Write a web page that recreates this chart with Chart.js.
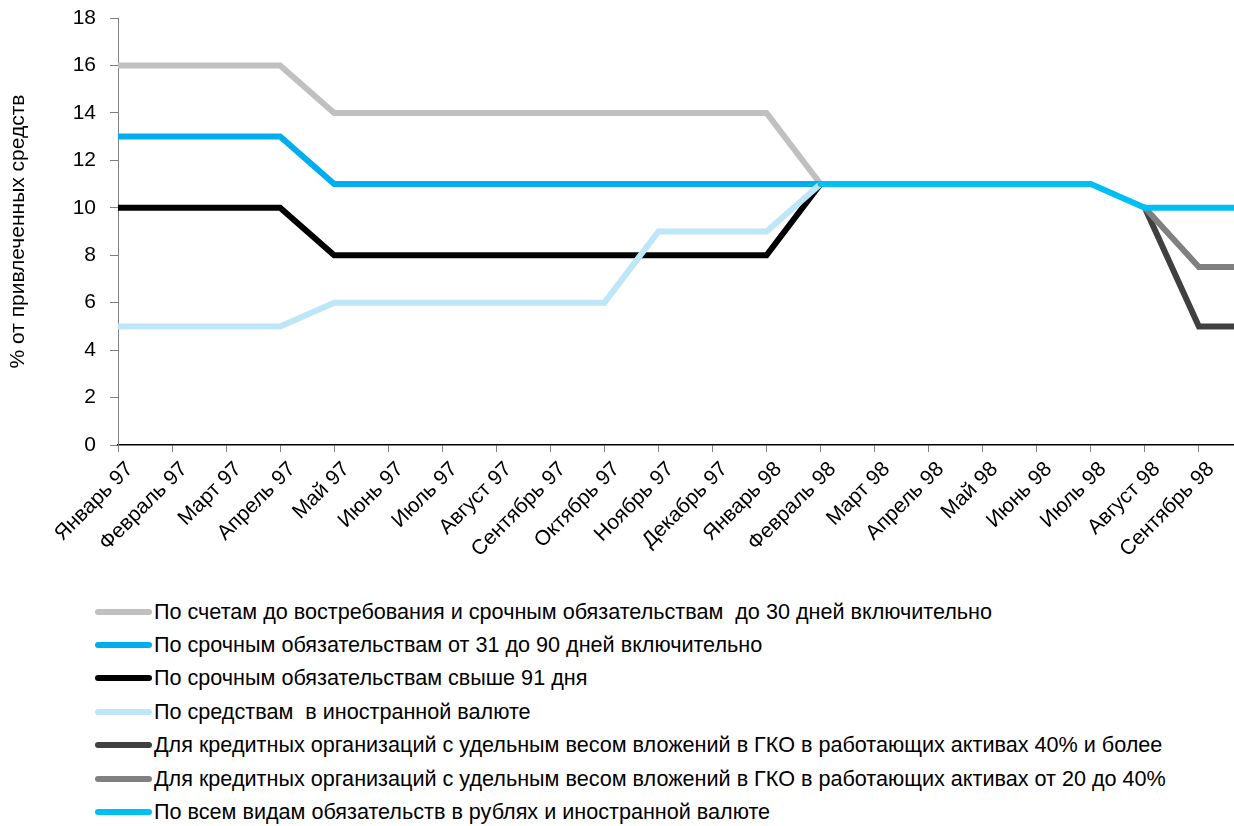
<!DOCTYPE html>
<html>
<head>
<meta charset="utf-8">
<script src="https://cdn.jsdelivr.net/npm/chart.js@4"></script>
<style>
    body { margin: 0; background: #fff; font-family: 'Liberation Sans', Arial, sans-serif; }
    #wrap { position: relative; width: 1234px; height: 826px; overflow: hidden; }
    #chart-box { position: absolute; left: 0; top: 0; width: 1234px; height: 590px; }
    #legend { position: absolute; left: 95px; top: 595px; }
    .legend-row { display: flex; align-items: center; height: 33.4px; }
    .legend-line { width: 57px; height: 6px; border-radius: 3px; margin-right: 2px; }
    .legend-text { font-size: 21.6px; color: #000; white-space: pre; }
</style>
</head>
<body>
<div id="wrap">
    <div id="chart-box"><canvas id="reserve-chart"></canvas></div>
    <div id="legend"></div>
</div>
<script>
// months, the last one is only there so the lines run out to the edge
var months = ['Январь 97', 'Февраль 97', 'Март 97', 'Апрель 97', 'Май 97', 'Июнь 97', 'Июль 97',
    'Август 97', 'Сентябрь 97', 'Октябрь 97', 'Ноябрь 97', 'Декабрь 97', 'Январь 98', 'Февраль 98',
    'Март 98', 'Апрель 98', 'Май 98', 'Июнь 98', 'Июль 98', 'Август 98', 'Сентябрь 98', 'Октябрь 98']

var seriesNames = [
    'По счетам до востребования и срочным обязательствам  до 30 дней включительно',
    'По срочным обязательствам от 31 до 90 дней включительно',
    'По срочным обязательствам свыше 91 дня',
    'По средствам  в иностранной валюте',
    'Для кредитных организаций с удельным весом вложений в ГКО в работающих активах 40% и более',
    'Для кредитных организаций с удельным весом вложений в ГКО в работающих активах от 20 до 40%',
    'По всем видам обязательств в рублях и иностранной валюте'
]
var seriesColors = ['#c0c0c0', '#00adef', '#000000', '#bde6f8', '#404040', '#808080', '#00bff3']

var upTo30 = [16, 16, 16, 16, 14, 14, 14, 14, 14, 14, 14, 14, 14, 11, null, null, null, null, null, null, null, null]
var from31to90 = [13, 13, 13, 13, 11, 11, 11, 11, 11, 11, 11, 11, 11, 11, null, null, null, null, null, null, null, null]
var over91 = [10, 10, 10, 10, 8, 8, 8, 8, 8, 8, 8, 8, 8, 11, null, null, null, null, null, null, null, null]
var foreignCur = [5, 5, 5, 5, 6, 6, 6, 6, 6, 6, 9, 9, 9, 11, null, null, null, null, null, null, null, null]
var gko40 = [null, null, null, null, null, null, null, null, null, null, null, null, null, null, null, null, null, null, null, 10, 5, 5]
var gko20to40 = [null, null, null, null, null, null, null, null, null, null, null, null, null, null, null, null, null, null, null, 10, 7.5, 7.5]
var allKinds = [null, null, null, null, null, null, null, null, null, null, null, null, null, 11, 11, 11, 11, 11, 11, 10, 10, 10]

var yTicks = [0, 2, 4, 6, 8, 10, 12, 14, 16, 18]

var allSeries = [upTo30, from31to90, over91, foreignCur, gko40, gko20to40, allKinds]

var fontName = "'Liberation Sans', Arial, sans-serif"

var datasets = allSeries.map((values, i) => {
    return {
        label: seriesNames[i],
        data: values.map((v, j) => ({ x: j, y: v })),
        borderColor: seriesColors[i],
        backgroundColor: seriesColors[i],
        borderWidth: 6,
        borderCapStyle: 'round',
        pointRadius: 0,
        pointHoverRadius: 0,
        tension: 0,
        spanGaps: false,
        order: allSeries.length - i   // later series on top, like the original
    }
})

//no automatic paddings, the plot box is fixed: 118..1234 x 18..445
function noPadding(scale) {
    scale.paddingTop = 0
    scale.paddingBottom = 0
    scale.paddingLeft = 0
    scale.paddingRight = 0
}

var ctxReserve = document.getElementById('reserve-chart').getContext('2d');

let reserveChart = new Chart(ctxReserve, {
    type: 'line',
    data: { datasets: datasets },
    options: {
        responsive: true,
        maintainAspectRatio: false,
        animation: false,
        layout: { padding: { top: 18, left: 0, right: 0, bottom: 0 } },
        plugins: {
            legend: { display: false },
            tooltip: { enabled: false }
        },
        scales: {
            x: {
                type: 'linear',
                min: 0,
                max: 20.65,
                afterFit: scale => { scale.height = 590 - 445; noPadding(scale) },
                border: { display: true, color: '#000', width: 1.5 },
                grid: { drawOnChartArea: false, drawTicks: true, tickLength: 7, color: '#808080' },
                ticks: {
                    stepSize: 1,
                    includeBounds: false,
                    autoSkip: false,
                    minRotation: 45,
                    maxRotation: 45,
                    padding: 5,
                    labelOffset: 12,
                    color: '#000',
                    font: { family: fontName, size: 21 },
                    callback: value => months[value]
                }
            },
            y: {
                min: 0,
                max: 18,
                afterFit: scale => { scale.width = 118; noPadding(scale) },
                afterBuildTicks: scale => { scale.ticks = yTicks.map(v => ({ value: v })) },
                border: { display: true, color: '#808080', width: 1 },
                grid: { drawOnChartArea: false, drawTicks: true, tickLength: 8, color: '#808080' },
                ticks: {
                    padding: 14,
                    color: '#000',
                    font: { family: fontName, size: 21 }
                },
                title: {
                    display: true,
                    text: '% от привлеченных средств',
                    color: '#000',
                    font: { family: fontName, size: 21 },
                    padding: { top: 6, bottom: 0 }
                }
            }
        }
    }
})

// legend built from the chart's own datasets
var legendBox = document.getElementById('legend');
reserveChart.data.datasets.forEach(ds => {
    var rowHTML = `<div class="legend-row">
        <div class="legend-line" style="background:${ds.borderColor}"></div>
        <div class="legend-text">${ds.label}</div>
    </div>`
    legendBox.insertAdjacentHTML('beforeend', rowHTML);
})
</script>
</body>
</html>
